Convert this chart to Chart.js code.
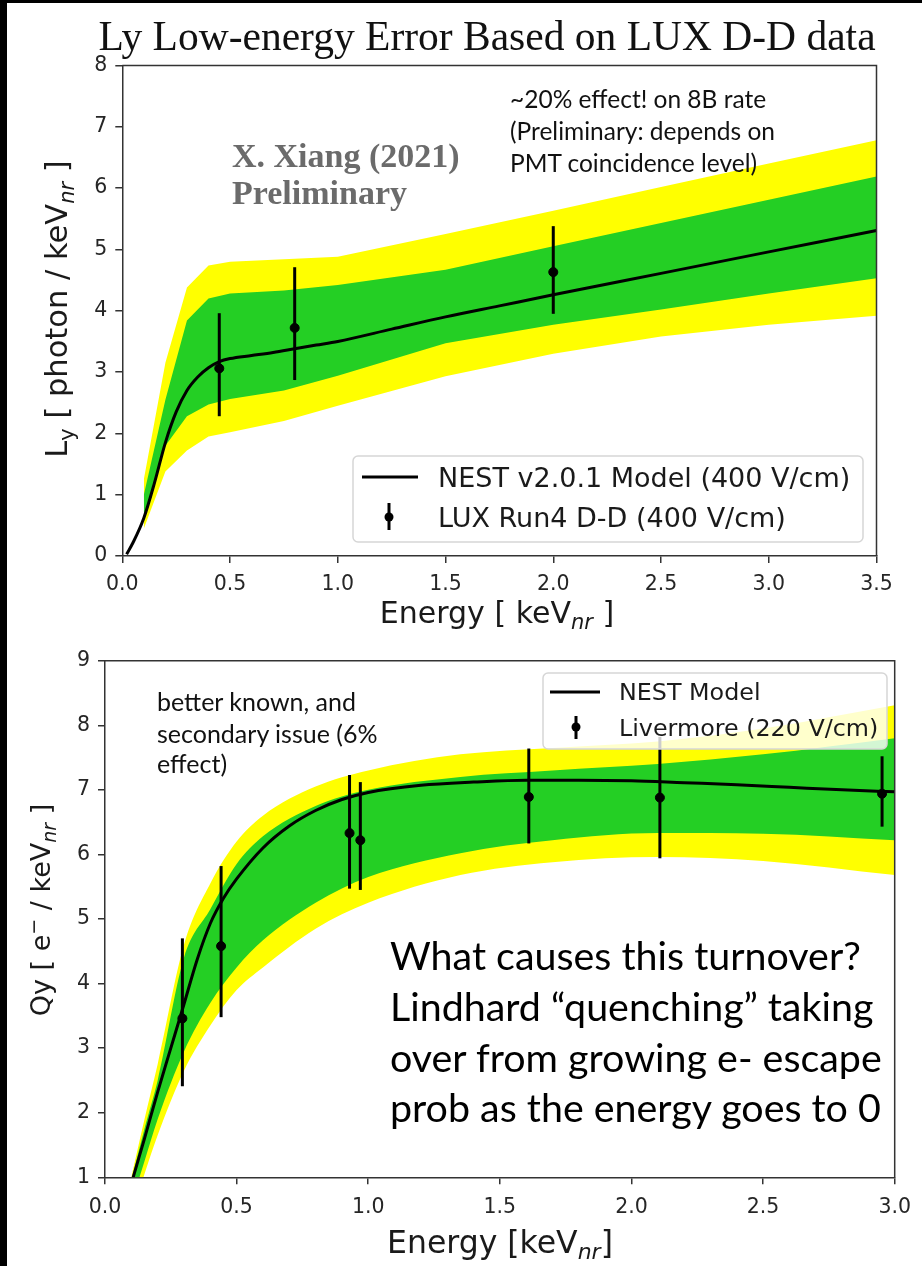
<!DOCTYPE html>
<html>
<head>
<meta charset="utf-8">
<script src="https://cdn.jsdelivr.net/npm/chart.js@4.4.1/dist/chart.umd.min.js"></script>
<style>
  html, body { margin: 0; padding: 0; background: #000; }
  #page { position: relative; width: 922px; height: 1266px; background: #000; overflow: hidden; }
  #sheet { position: absolute; left: 7px; top: 3px; width: 915px; height: 1263px; background: #fff; }
  .box { position: absolute; }
  #lyBox { left: 7px; top: 3px; width: 915px; height: 627px; }
  #qyBox { left: 7px; top: 630px; width: 915px; height: 636px; }
  #overlay { position: absolute; left: 0; top: 0; pointer-events: none; }
</style>
</head>
<body>
<div id="page">
  <div id="sheet"></div>
  <div class="box" id="lyBox"><canvas id="lyChart"></canvas></div>
  <div class="box" id="qyBox"><canvas id="qyChart"></canvas></div>

  <svg id="overlay" width="922" height="1266" xmlns="http://www.w3.org/2000/svg">
    <!-- top chart texts -->
    <text x="487" y="50" font-family="Liberation Serif" font-size="41.5" text-anchor="middle" fill="#111">Ly Low-energy Error Based on LUX D-D data</text>
    <g font-family="Liberation Serif" font-weight="bold" font-size="34" fill="#6b6b6b">
      <text x="232" y="167">X. Xiang (2021)</text>
      <text x="232" y="204">Preliminary</text>
    </g>
    <g font-family="Lato" font-size="24.5" fill="#111">
      <text x="510" y="108">~20% effect! on 8B rate</text>
      <text x="510" y="140">(Preliminary: depends on</text>
      <text x="510" y="172">PMT coincidence level)</text>
    </g>
    <text transform="translate(67,309) rotate(-90)" font-family="DejaVu Sans" font-size="30.5" text-anchor="middle" fill="#1a1a1a">L<tspan dy="7" font-size="21">y</tspan><tspan dy="-7"> [ photon / keV</tspan><tspan dy="7" font-size="21" font-style="italic">nr</tspan><tspan dy="-7"> ]</tspan></text>
    <text x="497" y="623" font-family="DejaVu Sans" font-size="30" text-anchor="middle" fill="#1a1a1a">Energy [ keV<tspan dy="6" font-size="21" font-style="italic">nr</tspan><tspan dy="-6"> ]</tspan></text>

    <!-- top legend -->
    <rect x="353" y="456" width="510" height="86" rx="5" fill="#fff" fill-opacity="0.8" stroke="#d6d6d6" stroke-width="1.5"/>
    <line x1="362" y1="477" x2="418" y2="477" stroke="#000" stroke-width="3"/>
    <line x1="389" y1="503" x2="389" y2="530" stroke="#000" stroke-width="3"/>
    <circle cx="389" cy="517" r="4.5" fill="#000"/>
    <g font-family="DejaVu Sans" font-size="27" fill="#1a1a1a">
      <text x="438" y="487">NEST v2.0.1 Model (400 V/cm)</text>
      <text x="438" y="527">LUX Run4 D-D (400 V/cm)</text>
    </g>

    <!-- bottom chart texts -->
    <g font-family="Lato" font-size="25" fill="#111">
      <text x="157" y="711">better known, and</text>
      <text x="157" y="743">secondary issue (6%</text>
      <text x="157" y="773">effect)</text>
    </g>
    <g font-family="Lato" font-size="39.4" fill="#000">
      <text x="390" y="970">What causes this turnover?</text>
      <text x="390" y="1021">Lindhard “quenching” taking</text>
      <text x="390" y="1072">over from growing e- escape</text>
      <text x="390" y="1122">prob as the energy goes to 0</text>
    </g>
    <text transform="translate(50,910) rotate(-90)" font-family="DejaVu Sans" font-size="27" text-anchor="middle" fill="#1a1a1a">Qy [ e<tspan dy="-10" font-size="19">−</tspan><tspan dy="10"> / keV</tspan><tspan dy="6" font-size="19" font-style="italic">nr</tspan><tspan dy="-6"> ]</tspan></text>
    <text x="500" y="1253" font-family="DejaVu Sans" font-size="31.5" text-anchor="middle" fill="#1a1a1a">Energy [keV<tspan dy="6" font-size="22" font-style="italic">nr</tspan><tspan dy="-6">]</tspan></text>

    <!-- bottom legend -->
    <rect x="543" y="673" width="344" height="76" rx="5" fill="#fff" fill-opacity="0.8" stroke="#d6d6d6" stroke-width="1.5"/>
    <line x1="550" y1="692" x2="600" y2="692" stroke="#000" stroke-width="3"/>
    <line x1="576" y1="716" x2="576" y2="739" stroke="#000" stroke-width="3"/>
    <circle cx="576" cy="727" r="4.5" fill="#000"/>
    <g font-family="DejaVu Sans" font-size="23.8" fill="#1a1a1a">
      <text x="619" y="700">NEST Model</text>
      <text x="619" y="736">Livermore (220 V/cm)</text>
    </g>
  </svg>
</div>

<script>
// ---- Ly (top) ----
const lyCurveE = [0.02, 0.05, 0.1, 0.15, 0.2, 0.25, 0.3, 0.35, 0.4, 0.45, 0.5, 0.6, 0.7, 0.8, 0.9, 1.0, 1.25, 1.5, 1.75, 2.0, 2.5, 3.0, 3.5];
const lyCurve = [0.03, 0.22, 0.62, 1.2, 1.85, 2.35, 2.7, 2.92, 3.07, 3.17, 3.22, 3.27, 3.32, 3.38, 3.44, 3.5, 3.7, 3.9, 4.08, 4.26, 4.61, 4.96, 5.31];

const lyBandE = [0.1, 0.2, 0.3, 0.4, 0.5, 0.75, 1.0, 1.5, 2.0, 2.5, 3.0, 3.5];
const lyYellowHi = [1.25, 3.15, 4.38, 4.74, 4.8, 4.84, 4.88, 5.25, 5.63, 6.02, 6.4, 6.78];
const lyGreenHi = [1.0, 2.55, 3.84, 4.2, 4.28, 4.33, 4.42, 4.67, 5.05, 5.43, 5.81, 6.19];
const lyGreenLo = [0.6, 1.8, 2.28, 2.47, 2.56, 2.7, 2.94, 3.47, 3.77, 4.02, 4.28, 4.53];
const lyYellowLo = [0.45, 1.38, 1.72, 1.95, 2.02, 2.2, 2.45, 2.93, 3.3, 3.58, 3.77, 3.92];

const luxE = [0.45, 0.8, 2.0];
const luxVal = [3.06, 3.72, 4.63];
const luxLo = [2.28, 2.87, 3.95];
const luxHi = [3.96, 4.71, 5.38];

const lyXTicks = [0, 0.5, 1.0, 1.5, 2.0, 2.5, 3.0, 3.5];
const lyXLabels = ["0.0", "0.5", "1.0", "1.5", "2.0", "2.5", "3.0", "3.5"];
const lyYTicks = [0, 1, 2, 3, 4, 5, 6, 7, 8];
const lyYLabels = ["0", "1", "2", "3", "4", "5", "6", "7", "8"];

// ---- Qy (bottom) ----
const qyCurveE = [0.107, 0.15, 0.2, 0.25, 0.3, 0.35, 0.4, 0.45, 0.5, 0.6, 0.7, 0.8, 0.9, 1.0, 1.2, 1.4, 1.6, 1.8, 2.0, 2.2, 2.4, 2.6, 2.8, 3.0];
const qyCurve = [1.0, 1.6, 2.32, 3.0, 3.68, 4.37, 4.93, 5.32, 5.62, 6.1, 6.44, 6.68, 6.85, 6.96, 7.07, 7.12, 7.15, 7.15, 7.14, 7.11, 7.08, 7.04, 7.0, 6.97];

const qyBandE = [0.1, 0.15, 0.2, 0.3, 0.4, 0.5, 0.6, 0.8, 1.0, 1.35, 1.7, 2.1, 2.5, 3.0];
const qyYellowHi = [1.0, 1.9, 2.75, 4.6, 5.55, 6.2, 6.6, 7.05, 7.3, 7.55, 7.65, 7.75, 7.95, 8.31];
const qyGreenHi = [0.95, 1.75, 2.5, 4.4, 5.15, 5.85, 6.28, 6.75, 7.0, 7.2, 7.3, 7.4, 7.55, 7.8];
const qyGreenLo = [0.6, 1.25, 1.9, 2.95, 3.7, 4.25, 4.67, 5.25, 5.65, 6.02, 6.22, 6.33, 6.32, 6.22];
const qyYellowLo = [0.4, 1.05, 1.65, 2.65, 3.35, 3.9, 4.25, 4.85, 5.25, 5.68, 5.88, 5.96, 5.9, 5.68];

const livE = [0.294, 0.441, 0.929, 0.97, 1.61, 2.108, 2.952];
const livVal = [3.46, 4.58, 6.33, 6.22, 6.89, 6.88, 6.94];
const livLo = [2.41, 3.48, 5.47, 5.45, 6.17, 5.94, 6.43];
const livHi = [4.7, 5.82, 7.23, 7.12, 7.64, 7.82, 7.52];

const qyXTicks = [0, 0.5, 1.0, 1.5, 2.0, 2.5, 3.0];
const qyXLabels = ["0.0", "0.5", "1.0", "1.5", "2.0", "2.5", "3.0"];
const qyYTicks = [1, 2, 3, 4, 5, 6, 7, 8, 9];
const qyYLabels = ["1", "2", "3", "4", "5", "6", "7", "8", "9"];

const GREEN = "#24cf24";
const YELLOW = "#ffff00";
const AXIS = "#333";

const pts = (xs, ys) => xs.map((x, i) => ({ x: x, y: ys[i] }));

// vertical error bars through the chart's own scales
const errorBars = {
  id: "errorBars",
  afterDatasetsDraw(chart, args, opts) {
    const { ctx, scales } = chart;
    ctx.save();
    ctx.strokeStyle = "#000";
    ctx.lineWidth = 3;
    opts.e.forEach((e, i) => {
      const px = scales.x.getPixelForValue(e);
      ctx.beginPath();
      ctx.moveTo(px, scales.y.getPixelForValue(opts.lo[i]));
      ctx.lineTo(px, scales.y.getPixelForValue(opts.hi[i]));
      ctx.stroke();
    });
    ctx.restore();
  }
};

// matplotlib style box: top + right edges
const frame = {
  id: "frame",
  afterDraw(chart) {
    const { ctx, chartArea: a } = chart;
    ctx.save();
    ctx.strokeStyle = AXIS;
    ctx.lineWidth = 1.5;
    ctx.beginPath();
    ctx.moveTo(a.left, a.top);
    ctx.lineTo(a.right, a.top);
    ctx.lineTo(a.right, a.bottom);
    ctx.stroke();
    ctx.restore();
  }
};

const band = (data, color, target, order, smooth) => ({
  data: data,
  borderColor: "rgba(0,0,0,0)",
  borderWidth: 0,
  backgroundColor: color,
  pointRadius: 0,
  tension: 0,
  cubicInterpolationMode: smooth ? "monotone" : "default",
  fill: target,
  order: order
});

function makeChart(id, cfg) {
  return new Chart(document.getElementById(id), {
    type: "line",
    data: {
      datasets: [
        { label: cfg.curveLabel, data: pts(cfg.curveE, cfg.curve), borderColor: "#000", borderWidth: 3,
          pointRadius: 0, cubicInterpolationMode: "monotone", fill: false, order: 0 },
        { type: "scatter", label: cfg.dataLabel, data: pts(cfg.ptE, cfg.ptVal), backgroundColor: "#000",
          borderColor: "#000", pointRadius: 4.5, order: -1 },
        band(pts(cfg.bandE, cfg.greenHi), GREEN, 3, 1, cfg.smooth),
        band(pts(cfg.bandE, cfg.greenLo), "rgba(0,0,0,0)", false, 1, cfg.smooth),
        band(pts(cfg.bandE, cfg.yellowHi), YELLOW, 5, 2, cfg.smooth),
        band(pts(cfg.bandE, cfg.yellowLo), "rgba(0,0,0,0)", false, 2, cfg.smooth)
      ]
    },
    options: {
      responsive: true,
      maintainAspectRatio: false,
      animation: false,
      layout: { padding: cfg.padding },
      plugins: {
        legend: { display: false },
        tooltip: { enabled: false },
        errorBars: { e: cfg.ptE, lo: cfg.ptLo, hi: cfg.ptHi }
      },
      scales: {
        x: {
          type: "linear", min: cfg.xTicks[0], max: cfg.xTicks[cfg.xTicks.length - 1],
          afterBuildTicks: s => { s.ticks = cfg.xTicks.map(v => ({ value: v })); },
          afterFit: s => { s.height = cfg.xHeight; },
          ticks: { callback: (v, i) => cfg.xLabels[i], font: { family: "DejaVu Sans", size: 20.5 }, color: "#262626",
                   padding: cfg.xPad, maxRotation: 0, autoSkip: false },
          grid: { drawOnChartArea: false, tickLength: 7, color: AXIS, lineWidth: 1.5 },
          border: { color: AXIS, width: 1.5 }
        },
        y: {
          type: "linear", min: cfg.yTicks[0], max: cfg.yTicks[cfg.yTicks.length - 1],
          afterBuildTicks: s => { s.ticks = cfg.yTicks.map(v => ({ value: v })); },
          afterFit: s => { s.width = cfg.yWidth; },
          ticks: { callback: (v, i) => cfg.yLabels[i], font: { family: "DejaVu Sans", size: 20.5 }, color: "#262626",
                   padding: 8, autoSkip: false },
          grid: { drawOnChartArea: false, tickLength: 7, color: AXIS, lineWidth: 1.5 },
          border: { color: AXIS, width: 1.5 }
        }
      }
    },
    plugins: [errorBars, frame]
  });
}

makeChart("lyChart", {
  curveLabel: "NEST v2.0.1 Model (400 V/cm)", dataLabel: "LUX Run4 D-D (400 V/cm)",
  curveE: lyCurveE, curve: lyCurve,
  bandE: lyBandE, greenHi: lyGreenHi, greenLo: lyGreenLo, yellowHi: lyYellowHi, yellowLo: lyYellowLo,
  ptE: luxE, ptVal: luxVal, ptLo: luxLo, ptHi: luxHi,
  xTicks: lyXTicks, xLabels: lyXLabels, yTicks: lyYTicks, yLabels: lyYLabels,
  padding: { top: 62.5, right: 45.5, left: 0, bottom: 0 }, yWidth: 115.3, xHeight: 74, xPad: 9, smooth: false
});

makeChart("qyChart", {
  curveLabel: "NEST Model", dataLabel: "Livermore (220 V/cm)",
  curveE: qyCurveE, curve: qyCurve,
  bandE: qyBandE, greenHi: qyGreenHi, greenLo: qyGreenLo, yellowHi: qyYellowHi, yellowLo: qyYellowLo,
  ptE: livE, ptVal: livVal, ptLo: livLo, ptHi: livHi,
  xTicks: qyXTicks, xLabels: qyXLabels, yTicks: qyYTicks, yLabels: qyYLabels,
  padding: { top: 30.7, right: 23.3, left: 0, bottom: 0 }, yWidth: 98, xHeight: 88.7, xPad: 11, smooth: true
});
</script>
</body>
</html>
